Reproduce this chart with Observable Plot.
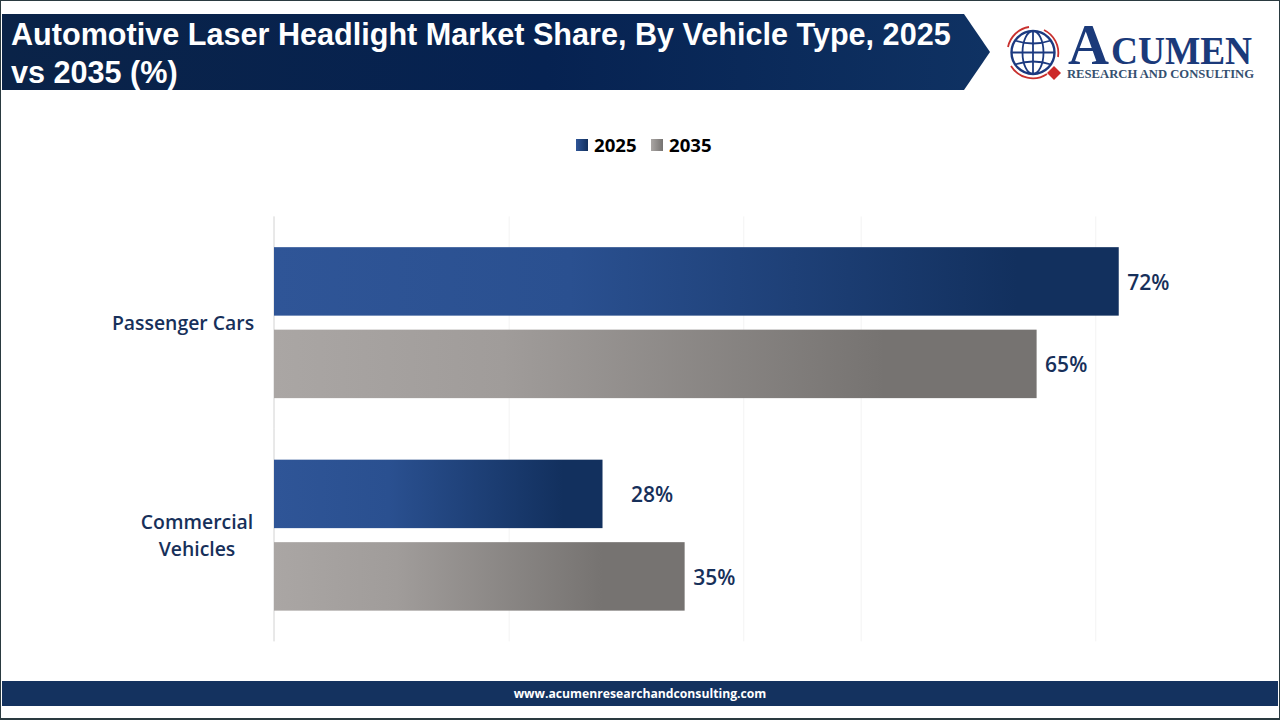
<!DOCTYPE html>
<html>
<head>
<meta charset="utf-8">
<script src="https://cdn.jsdelivr.net/npm/d3@7"></script>
<script src="https://cdn.jsdelivr.net/npm/@observablehq/plot@0.6"></script>
<style>
html,body{margin:0;padding:0;background:#fff;}
#page{position:relative;width:1280px;height:720px;overflow:hidden;background:#fff;}
#frame{position:absolute;left:0;top:0;width:1278px;height:717px;border:1px solid #2a3a40;border-width:1px 1px 2px 1px;pointer-events:none;z-index:5;}
#banner{position:absolute;left:2px;top:14px;width:988px;height:76px;background:linear-gradient(90deg,#0a2348 0%,#062251 55%,#0f3263 100%);clip-path:polygon(0 0,962px 0,988px 38px,962px 76px,0 76px);}
#title{position:absolute;left:11px;top:15px;width:960px;font:bold 30.6px/38px "Liberation Sans",Arial,sans-serif;color:#fff;margin:0;white-space:pre-line;}
#legend{position:absolute;left:0;top:135px;height:20px;width:1280px;font:bold 18.6px/20px "Open Sans",sans-serif;color:#000;}
#legend span{position:absolute;top:0;}
#legend i{position:absolute;top:4px;width:12px;height:12px;display:block;}
#chart{position:absolute;left:0;top:200px;}
#footer{position:absolute;left:2px;top:681px;width:1276px;height:25px;background:#14325f;color:#fff;text-align:center;font:bold 12.2px/25px "Open Sans",sans-serif;}
#logo{position:absolute;left:1000px;top:0;}
</style>
</head>
<body>
<div id="page">
  <div id="banner"></div>
  <h1 id="title"></h1>
  <svg id="logo" width="270" height="96" viewBox="1000 0 270 96">
    <g fill="none" stroke="#c8302e" stroke-width="1.8">
      <path d="M1008 47 A25.5 25.5 0 0 1 1029 27"/>
      <path d="M1044 30 A25.5 25.5 0 0 1 1058 57"/>
      <path d="M1047 74 A25.5 25.5 0 0 1 1011 66"/>
    </g>
    <g fill="none" stroke="#1c3a80" stroke-width="1.8">
      <circle cx="1033" cy="52.5" r="21.5" stroke-width="2.4"/>
      <ellipse cx="1033" cy="52.5" rx="10.5" ry="21.5"/>
      <line x1="1033" y1="31" x2="1033" y2="74"/>
      <line x1="1011.5" y1="52.5" x2="1054.5" y2="52.5"/>
      <path d="M1015 40.5 Q1033 46.5 1051 40.5"/>
      <path d="M1015 64.5 Q1033 58.5 1051 64.5"/>
    </g>
    <path d="M1054 66 L1061 73 L1054 80 L1047 73 Z" fill="#cc2a2a"/>
    <text x="1068" y="63.5" font-family="Liberation Serif" font-weight="bold" font-size="58" fill="#1b3a7a" textLength="41" lengthAdjust="spacingAndGlyphs">A</text>
    <text x="1111" y="63.5" font-family="Liberation Serif" font-weight="bold" font-size="39" fill="#1b3a7a" textLength="141" lengthAdjust="spacingAndGlyphs">CUMEN</text>
    <text x="1067" y="78" font-family="Liberation Serif" font-weight="bold" font-size="12.5" fill="#34506f" textLength="187" lengthAdjust="spacingAndGlyphs">RESEARCH AND CONSULTING</text>
  </svg>
  <div id="legend">
    <i style="left:576px;background:linear-gradient(90deg,#2f5597,#12305e)"></i><span id="l0" style="left:594px"></span>
    <i style="left:651px;background:linear-gradient(90deg,#aaa6a4,#767371)"></i><span id="l1" style="left:669px"></span>
  </div>
  <div id="chart"></div>
  <div id="footer"></div>
  <div id="frame"></div>
</div>
<script>
const titleLines = ["Automotive Laser Headlight Market Share, By Vehicle Type, 2025", "vs 2035 (%)"];
const footerText = "www.acumenresearchandconsulting.com";
const categories = ["Passenger Cars", "Commercial Vehicles"];
const categoryLines = {"Passenger Cars": "Passenger Cars", "Commercial Vehicles": "Commercial\nVehicles"};
const years = ["2025", "2035"];
const values2025 = [72, 28];
const values2035 = [65, 35];
const gridTicks = [20, 40, 50, 70];

const NAVY = "#17305a";
const rows = categories.flatMap((c, i) => [
  {category: c, year: years[0], value: values2025[i]},
  {category: c, year: years[1], value: values2035[i]}
]);
const isLabelPushed = d => d.category === categories[1] && d.year === years[0];

document.getElementById("title").textContent = titleLines.join("\n");
document.getElementById("footer").textContent = footerText;
document.getElementById("l0").textContent = years[0];
document.getElementById("l1").textContent = years[1];

function gradients() {
  const defs = d3.create("svg:defs");
  const add = (id, stops) => {
    const g = defs.append("linearGradient").attr("id", id).attr("x1", 0).attr("x2", 1).attr("y1", 0).attr("y2", 0);
    stops.forEach(([o, c]) => g.append("stop").attr("offset", o).attr("stop-color", c));
  };
  add("blueBar", [[0, "#2f5597"], [0.35, "#2a5090"], [0.88, "#12305e"], [1, "#12305e"]]);
  add("greyBar", [[0, "#aaa6a4"], [0.3, "#a09c9a"], [0.8, "#767371"], [1, "#767371"]]);
  return defs.node();
}

const valueText = {
  x: "value", y: "year", fy: "category",
  text: d => d.value + "%",
  textAnchor: "start",
  dy: 1,
  fontSize: 21, fontWeight: 600, fontFamily: "Open Sans", fill: NAVY
};
const categoryText = {
  fy: d => d,
  text: d => categoryLines[d],
  frameAnchor: "left",
  textAnchor: "middle",
  lineHeight: 1.42,
  dy: -2,
  fontSize: 19.4, fontWeight: 600, fontFamily: "Open Sans", fill: NAVY
};

const chart = Plot.plot({
  width: 1280,
  height: 450,
  marginTop: 16.4,
  marginBottom: 8.6,
  marginLeft: 274,
  marginRight: 67.4,
  style: {background: "transparent", overflow: "visible"},
  x: {domain: [0, 80], axis: null},
  fy: {domain: categories, padding: 0, round: false, axis: null},
  y: {domain: years, paddingInner: 0.17, paddingOuter: 0.373, round: false, axis: null},
  marks: [
    gradients,
    Plot.gridX(gridTicks, {stroke: "#f3f3f3", strokeOpacity: 1, strokeWidth: 1}),
    Plot.ruleX([0], {stroke: "#d2d2d2", strokeWidth: 1, dx: -0.5}),
    Plot.barX(rows.filter(d => d.year === years[0]), {x: "value", y: "year", fy: "category", fill: "url(#blueBar)"}),
    Plot.barX(rows.filter(d => d.year === years[1]), {x: "value", y: "year", fy: "category", fill: "url(#greyBar)"}),
    Plot.text(rows.filter(d => !isLabelPushed(d)), {...valueText, dx: 8}),
    Plot.text(rows.filter(isLabelPushed), {...valueText, dx: 28}),
    Plot.text([categories[0]], {...categoryText, dx: -91.5}),
    Plot.text([categories[1]], {...categoryText, dx: -77.5})
  ]
});
document.getElementById("chart").appendChild(chart);
</script>
</body>
</html>
